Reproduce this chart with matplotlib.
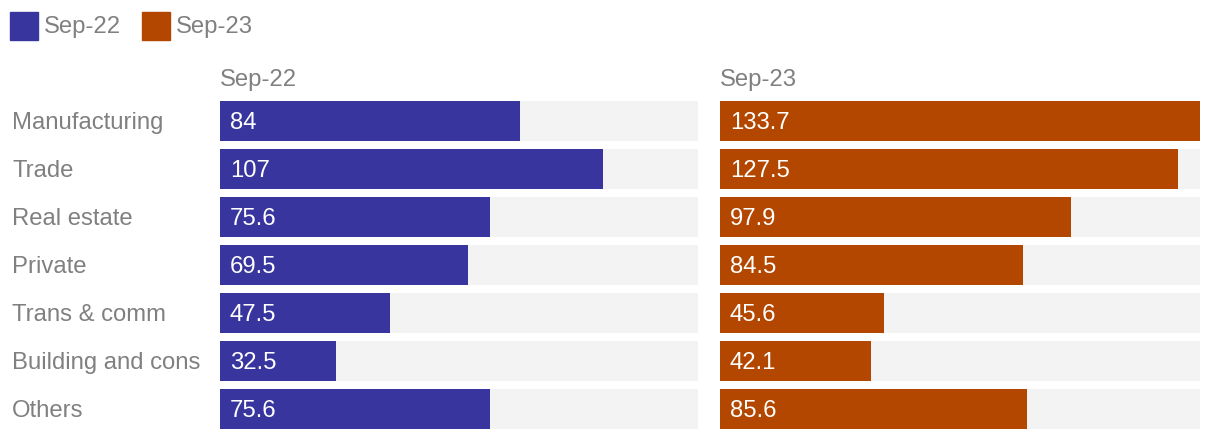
import matplotlib.pyplot as plt
from matplotlib.patches import Rectangle

categories = ['Manufacturing', 'Trade', 'Real estate', 'Private',
              'Trans & comm', 'Building and cons', 'Others']
sep22 = [84, 107, 75.6, 69.5, 47.5, 32.5, 75.6]
sep23 = [133.7, 127.5, 97.9, 84.5, 45.6, 42.1, 85.6]
series_names = ['Sep-22', 'Sep-23']

colors = ['#38369e', '#b34700']
bg = '#f3f3f3'
grey = '#808080'
fs = 17.2
W, H = 1220, 442
plt.rcParams['font.family'] = ['Liberation Sans', 'DejaVu Sans']

fig = plt.figure(figsize=(W / 100, H / 100), dpi=100)
xmax = max(sep23 + sep22)

top, bottom = 97, 433
dy = 2  # small downward nudge for text
panels = [(220, 478), (720, 480)]
for (left, width), vals, name, col in zip(panels, [sep22, sep23], series_names, colors):
    ax = fig.add_axes([left / W, 1 - bottom / H, width / W, (bottom - top) / H])
    ys = range(len(categories))
    ax.barh(ys, [xmax] * len(vals), height=40 / 48, color=bg, left=0)
    ax.barh(ys, vals, height=40 / 48, color=col)
    for y, v in zip(ys, vals):
        ax.text(xmax * 10 / width, y + dy / 48, f'{v:g}', color='white', fontsize=fs,
                va='center', ha='left')
    ax.set_xlim(0, xmax)
    ax.set_ylim(len(categories) - 0.5, -0.5)
    ax.axis('off')
    fig.text(left / W, 1 - (78 + dy) / H, name, color=grey, fontsize=fs, va='center', ha='left')

for i, c in enumerate(categories):
    y = top + 48 * i + 24 + dy
    fig.text(12 / W, 1 - y / H, c, color=grey, fontsize=fs, va='center', ha='left')

# legend
for (x0, tx), name, col in zip([(10, 44), (142, 176)], series_names, colors):
    fig.patches.append(Rectangle((x0 / W, 1 - 40 / H), 28 / W, 28 / H,
                                 transform=fig.transFigure, color=col))
    fig.text(tx / W, 1 - (25 + dy) / H, name, color=grey, fontsize=fs, va='center', ha='left')

fig.savefig('out.png', dpi=100)
